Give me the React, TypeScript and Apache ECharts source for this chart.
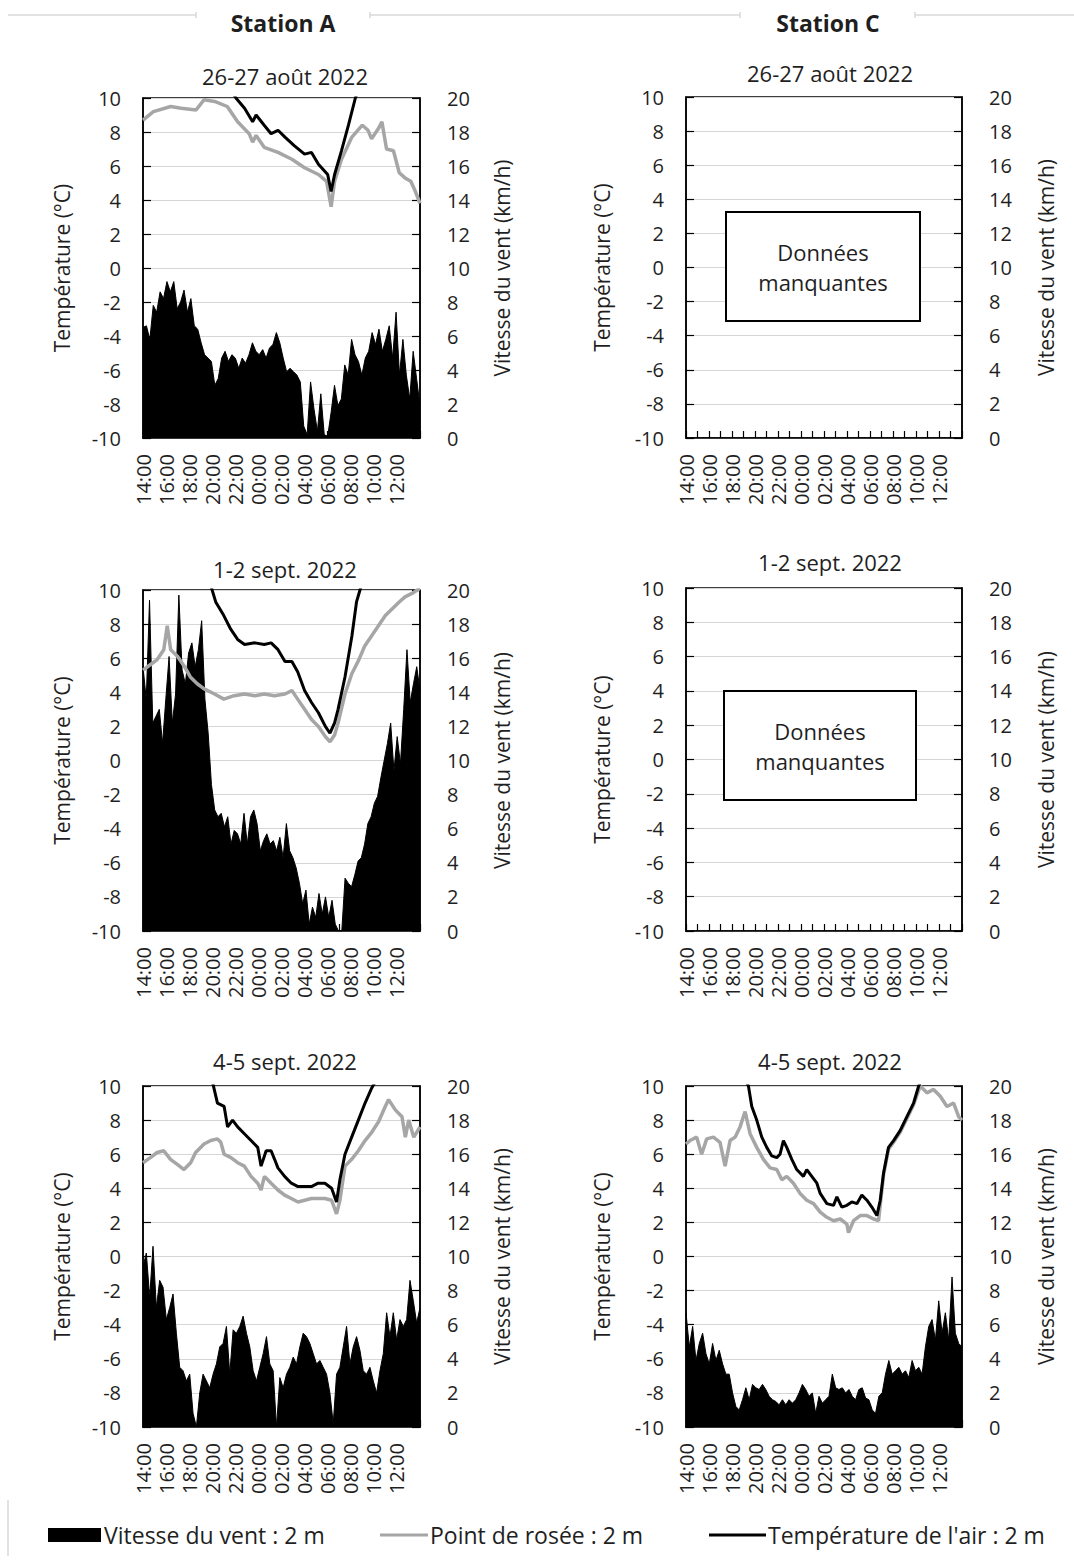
import React, { useEffect, useRef } from 'react';
import * as echarts from 'echarts';

// ---------- DATA ----------
const timeLabels = ['14:00', '16:00', '18:00', '20:00', '22:00', '00:00', '02:00', '04:00', '06:00', '08:00', '10:00', '12:00'];

// Wind speed (km/h), evenly spaced from 14:00 to 14:00 next day
const windA1 = [6.5, 6.6, 5.8, 7.8, 7.4, 8.6, 8.2, 9.2, 8.6, 9.2, 7.6, 8.0, 8.7, 7.4, 8.2, 6.6, 6.4, 5.6, 4.9, 4.7, 4.5, 3.1, 3.5, 4.7, 5.1, 4.5, 4.9, 4.7, 4.1, 4.7, 4.4, 4.9, 5.6, 5.1, 4.9, 5.2, 4.7, 5.3, 5.5, 6.2, 5.6, 4.7, 3.9, 4.1, 3.9, 3.7, 3.3, 0.7, 0.2, 3.3, 1.7, 0.4, 2.6, 0.2, 0.1, 1.5, 3.1, 1.9, 2.3, 4.3, 3.7, 5.8, 4.9, 4.5, 3.7, 4.7, 5.1, 6.2, 5.5, 6.4, 5.1, 5.8, 6.6, 4.7, 7.4, 3.7, 5.8, 3.7, 2.3, 5.1, 3.5, 1.9];
const windA2 = [15.5, 13.6, 19.4, 12.2, 12.6, 13.0, 11.0, 13.6, 16.1, 12.2, 13.9, 19.7, 15.3, 14.5, 16.3, 16.9, 15.5, 16.5, 18.2, 13.6, 11.6, 8.6, 7.1, 6.7, 6.9, 6.1, 6.7, 5.1, 5.9, 5.7, 5.1, 6.9, 5.1, 6.7, 7.1, 6.3, 4.7, 5.3, 5.7, 5.1, 5.3, 4.7, 5.5, 4.3, 6.3, 4.7, 4.3, 3.7, 2.8, 1.6, 2.4, 0.4, 1.4, 0.8, 2.2, 1.0, 2.0, 0.8, 1.8, 0.4, 0, 0, 3.1, 2.8, 2.6, 3.3, 4.1, 4.3, 5.1, 6.3, 6.7, 7.5, 7.9, 9.0, 10.0, 11.0, 12.2, 9.4, 11.4, 9.8, 13.0, 16.5, 13.4, 14.5, 15.5, 14.1];
const windA3 = [9.4, 10.2, 7.6, 10.6, 7.0, 8.6, 8.2, 6.3, 7.0, 7.8, 5.5, 3.5, 3.3, 2.7, 3.1, 0.8, 0, 2.0, 3.1, 2.7, 2.3, 3.1, 3.7, 4.7, 4.9, 5.9, 3.1, 5.7, 5.5, 5.9, 6.5, 5.5, 4.7, 3.3, 2.7, 3.5, 4.3, 5.3, 3.7, 3.3, 0, 2.9, 2.3, 3.1, 3.5, 4.1, 3.7, 4.7, 5.5, 5.3, 4.9, 4.3, 3.7, 3.9, 3.5, 3.1, 2.0, 0.2, 3.1, 3.5, 4.7, 5.9, 3.7, 4.7, 5.3, 4.5, 3.3, 3.1, 3.5, 2.7, 2.0, 3.3, 4.3, 6.7, 5.3, 6.7, 5.1, 6.3, 5.9, 6.3, 8.6, 7.4, 6.1, 7.0];
const windC3 = [6.7, 4.7, 5.9, 3.9, 4.9, 5.5, 4.3, 3.7, 4.9, 3.9, 4.5, 3.7, 3.1, 3.1, 2.0, 1.2, 1.0, 1.6, 2.3, 1.6, 2.5, 2.3, 2.2, 2.5, 2.2, 1.8, 1.6, 1.5, 1.3, 1.6, 1.3, 1.6, 1.4, 1.6, 2.0, 2.5, 2.2, 1.8, 2.0, 0.8, 1.8, 1.4, 1.6, 1.8, 3.1, 2.3, 2.2, 2.3, 2.0, 2.2, 1.8, 1.6, 2.2, 2.3, 1.7, 1.6, 1.0, 0.8, 1.8, 2.0, 3.1, 3.9, 3.1, 3.3, 3.5, 3.1, 3.3, 2.9, 3.9, 3.3, 3.5, 3.1, 4.7, 5.9, 6.3, 5.1, 7.4, 5.5, 6.7, 5.1, 8.8, 5.5, 4.9, 4.7];

// Dew point / air temperature (°C): [hours since 14:00, value]
const dewA1 = [[0, 8.7], [0.9, 9.2], [2.4, 9.5], [3.3, 9.4], [4.6, 9.3], [5.3, 9.9], [6.2, 9.8], [7.3, 9.5], [8.2, 8.6], [9.2, 7.9], [9.5, 7.4], [9.8, 7.8], [10.5, 7.1], [11.7, 6.8], [12.9, 6.4], [14.0, 5.9], [15.2, 5.5], [15.9, 5.1], [16.3, 3.6], [16.6, 5.1], [17.2, 6.4], [18.1, 7.7], [19.0, 8.4], [19.5, 8.1], [19.8, 7.6], [20.4, 8.2], [20.7, 8.6], [21.1, 7.0], [21.7, 6.9], [22.2, 5.6], [22.7, 5.3], [23.2, 5.1], [23.6, 4.5], [24, 3.8]];
const tempA1 = [[0, 14.5], [4, 13.2], [7, 11.2], [8.05, 10.0], [8.8, 9.4], [9.5, 8.6], [9.8, 9.0], [10.5, 8.4], [11.1, 7.9], [11.7, 8.1], [12.3, 7.7], [13.1, 7.2], [14.0, 6.7], [14.6, 6.8], [15.2, 6.1], [16.0, 5.5], [16.3, 4.5], [16.6, 5.5], [17.2, 6.9], [17.8, 8.4], [18.4, 10.0], [19.5, 12.0], [24, 17.0]];
const dewA2 = [[0, 5.3], [0.6, 5.6], [1.2, 5.9], [1.8, 6.5], [2.1, 7.9], [2.4, 6.5], [3.0, 6.1], [3.6, 5.5], [4.1, 4.9], [4.7, 4.5], [5.3, 4.2], [6.2, 3.9], [7.0, 3.6], [7.9, 3.8], [8.8, 3.9], [9.7, 3.8], [10.5, 3.9], [11.4, 3.8], [12.3, 3.9], [12.9, 4.1], [13.4, 3.6], [14.0, 3.0], [14.6, 2.4], [15.2, 2.0], [15.8, 1.4], [16.2, 1.1], [16.6, 1.5], [16.9, 2.2], [17.5, 3.9], [18.1, 5.1], [18.7, 5.9], [19.2, 6.7], [19.8, 7.3], [20.4, 7.9], [21.0, 8.5], [21.6, 8.9], [22.2, 9.3], [22.7, 9.6], [23.3, 9.8], [24, 10.1]];
const tempA2 = [[0, 13.5], [3, 12.0], [5.9, 10.2], [6.3, 9.3], [7.0, 8.5], [7.6, 7.7], [8.2, 7.1], [8.8, 6.8], [9.7, 6.9], [10.5, 6.8], [11.1, 6.9], [11.7, 6.5], [12.3, 5.8], [12.9, 5.8], [13.4, 5.2], [14.0, 4.1], [14.6, 3.4], [15.2, 2.8], [15.8, 2.0], [16.2, 1.6], [16.6, 2.2], [16.9, 3.0], [17.5, 4.9], [18.1, 7.3], [18.5, 9.3], [18.8, 10.0], [19.5, 11.5], [24, 16.0]];
const dewA3 = [[0, 5.5], [0.64, 5.8], [1.22, 6.1], [1.8, 6.2], [2.38, 5.7], [2.97, 5.4], [3.55, 5.1], [4.13, 5.5], [4.56, 6.1], [5.29, 6.6], [5.87, 6.8], [6.45, 6.9], [6.74, 6.7], [7.03, 6.0], [7.62, 5.8], [8.2, 5.5], [8.78, 5.3], [9.36, 4.7], [9.94, 4.3], [10.23, 3.9], [10.52, 4.7], [11.1, 4.3], [11.69, 3.9], [12.27, 3.6], [12.85, 3.4], [13.43, 3.2], [14.01, 3.3], [14.59, 3.4], [15.17, 3.4], [15.76, 3.4], [16.34, 3.3], [16.77, 2.5], [17.06, 3.3], [17.5, 5.3], [18.08, 5.7], [18.66, 6.2], [19.24, 6.8], [19.83, 7.3], [20.41, 7.9], [20.99, 8.8], [21.28, 9.2], [21.86, 8.6], [22.44, 8.2], [22.73, 7.0], [23.02, 8.0], [23.46, 7.0], [24, 7.6]];
const tempA3 = [[0, 14.0], [4, 12.0], [6, 10.3], [6.45, 9.0], [7.03, 8.8], [7.33, 7.6], [7.76, 8.0], [8.2, 7.6], [8.78, 7.2], [9.36, 6.8], [9.94, 6.4], [10.23, 5.3], [10.67, 6.2], [11.1, 6.2], [11.4, 5.7], [11.69, 5.2], [12.27, 4.7], [12.85, 4.3], [13.43, 4.1], [14.01, 4.1], [14.59, 4.1], [15.17, 4.3], [15.76, 4.3], [16.34, 4.0], [16.77, 3.2], [17.06, 4.5], [17.5, 6.0], [18.08, 7.0], [18.66, 8.0], [19.24, 9.0], [19.83, 9.9], [20.0, 10.1], [24, 15.0]];
const dewC3 = [[0, 6.6], [0.35, 6.8], [0.93, 7.0], [1.36, 6.0], [1.8, 6.9], [2.38, 7.0], [2.96, 6.7], [3.4, 5.3], [3.83, 6.8], [4.27, 7.0], [4.7, 7.6], [5.14, 8.5], [5.57, 7.2], [6.15, 6.4], [6.73, 5.7], [7.31, 5.2], [7.89, 5.1], [8.33, 4.5], [8.76, 4.7], [9.34, 4.3], [9.92, 3.7], [10.5, 3.3], [11.09, 3.1], [11.67, 2.6], [12.25, 2.3], [12.83, 2.1], [13.41, 2.2], [13.99, 1.9], [14.13, 1.4], [14.57, 2.1], [15.15, 2.4], [15.73, 2.4], [16.31, 2.2], [16.74, 2.1], [17.18, 4.8], [17.61, 6.3], [18.05, 6.7], [18.63, 7.3], [19.21, 8.1], [19.79, 8.9], [20.37, 10.0], [20.95, 9.6], [21.53, 9.8], [22.11, 9.4], [22.69, 8.8], [23.27, 9.0], [23.71, 8.2], [24, 8.0]];
const tempC3 = [[0, 15.0], [4, 12.0], [5.43, 10.0], [5.72, 8.8], [6.15, 8.0], [6.59, 7.0], [7.02, 6.4], [7.46, 5.9], [7.89, 5.8], [8.18, 6.0], [8.47, 6.8], [8.76, 6.4], [9.2, 5.7], [9.63, 5.1], [10.21, 4.7], [10.5, 5.1], [10.94, 4.7], [11.38, 4.3], [11.67, 3.7], [12.25, 3.1], [12.83, 3.0], [13.12, 3.5], [13.55, 2.9], [13.99, 3.0], [14.42, 3.2], [14.86, 3.1], [15.29, 3.6], [15.73, 3.3], [16.16, 2.9], [16.6, 2.4], [16.89, 3.3], [17.18, 4.9], [17.61, 6.4], [18.05, 6.8], [18.63, 7.4], [19.21, 8.2], [19.79, 9.0], [20.23, 10.0], [21, 11.0], [24, 13.0]];

const titles = ['26-27 août 2022', '1-2 sept. 2022', '4-5 sept. 2022'];
const stations = ['Station A', 'Station C'];
const legendNames = ['Vitesse du vent : 2 m', 'Point de rosée : 2 m', "Température de l'air : 2 m"];
const missingText = ['Données', 'manquantes'];
const axisNames = ['Température (°C)', 'Vitesse du vent (km/h)'];

// ---------- LAYOUT ----------
const FONT = "'Open Sans', 'Noto Sans', sans-serif";
const TXT = '#1f1f1f';
const GRAY = '#a6a6a6';

type Panel = {
  left: number; top: number; width: number; height: number;
  title: string; titleX: number; titleY: number;
  nameL: number; nameR: number;
  wind?: number[]; dew?: number[][]; temp?: number[][];
  box?: { x: number; y: number; w: number; h: number };
};

const panels: Panel[] = [
  { left: 143, top: 98, width: 277, height: 340, title: titles[0], titleX: 285, titleY: 76, nameL: 62, nameR: 502, wind: windA1, dew: dewA1, temp: tempA1 },
  { left: 143, top: 590, width: 277, height: 341, title: titles[1], titleX: 285, titleY: 569, nameL: 62, nameR: 502, wind: windA2, dew: dewA2, temp: tempA2 },
  { left: 143, top: 1086, width: 277, height: 341, title: titles[2], titleX: 285, titleY: 1061, nameL: 62, nameR: 502, wind: windA3, dew: dewA3, temp: tempA3 },
  { left: 686, top: 97, width: 276, height: 341, title: titles[0], titleX: 830, titleY: 73, nameL: 602, nameR: 1046, box: { x: 726, y: 212, w: 194, h: 109 } },
  { left: 686, top: 588, width: 276, height: 343, title: titles[1], titleX: 830, titleY: 562, nameL: 602, nameR: 1046, box: { x: 724, y: 691, w: 192, h: 109 } },
  { left: 686, top: 1086, width: 276, height: 341, title: titles[2], titleX: 830, titleY: 1061, nameL: 602, nameR: 1046, wind: windC3, dew: dewC3, temp: tempC3 },
];

function txt(text: string, x: number, y: number, size: number, opts: any = {}) {
  return {
    type: 'text', x, y, rotation: opts.rotation || 0, z: 100,
    style: {
      text, fill: TXT, fontSize: size, fontFamily: FONT, fontWeight: opts.bold ? 'bold' : 'normal',
      align: opts.align || 'center', verticalAlign: 'middle',
      textAlign: opts.align || 'center', textVerticalAlign: 'middle',
    },
  };
}

function buildOption() {
  const grid: any[] = [];
  const xAxis: any[] = [];
  const yAxis: any[] = [];
  const series: any[] = [];
  const graphic: any[] = [];

  panels.forEach((p, i) => {
    grid.push({ left: p.left, top: p.top, width: p.width, height: p.height, show: true, borderColor: '#000', borderWidth: 1.5, backgroundColor: 'transparent' });
    xAxis.push({
      type: 'value', gridIndex: i, min: 0, max: 24, interval: 1,
      axisLine: { show: true, onZero: false, lineStyle: { color: '#000', width: 1.5 } },
      axisTick: { show: true, inside: true, length: 7, lineStyle: { color: '#000', width: 1.2 } },
      splitLine: { show: false },
      axisLabel: {
        rotate: 90, margin: 16, fontSize: 20, fontFamily: FONT, color: TXT,
        formatter: (v: number) => (v % 2 === 0 && v < 24 ? timeLabels[v / 2] : ''),
      },
    });
    yAxis.push({
      type: 'value', gridIndex: i, position: 'left', min: -10, max: 10, interval: 2,
      axisLine: { show: true, lineStyle: { color: '#000', width: 1.5 } },
      axisTick: { show: true, inside: true, length: 8, lineStyle: { color: '#000', width: 1.2 } },
      splitLine: { show: true, lineStyle: { color: '#d6d6d6', width: 1.2 } },
      axisLabel: { margin: 22, fontSize: 20, fontFamily: FONT, color: TXT },
    });
    yAxis.push({
      type: 'value', gridIndex: i, position: 'right', min: 0, max: 20, interval: 2,
      axisLine: { show: true, lineStyle: { color: '#000', width: 1.5 } },
      axisTick: { show: true, inside: true, length: 8, lineStyle: { color: '#000', width: 1.2 } },
      splitLine: { show: false },
      axisLabel: { margin: 27, fontSize: 20, fontFamily: FONT, color: TXT },
    });

    if (p.wind) {
      const n = p.wind.length;
      series.push({
        name: legendNames[0], type: 'line', xAxisIndex: i, yAxisIndex: 2 * i + 1,
        data: p.wind.map((v, k) => [(k * 24) / (n - 1), v]),
        symbol: 'none', clip: true, silent: true,
        lineStyle: { color: '#000', width: 1 },
        areaStyle: { color: '#000', opacity: 1 },
      });
    }
    if (p.dew) {
      series.push({
        name: legendNames[1], type: 'line', xAxisIndex: i, yAxisIndex: 2 * i,
        data: p.dew, symbol: 'none', clip: true, silent: true,
        lineStyle: { color: GRAY, width: 3.5 },
      });
    }
    if (p.temp) {
      series.push({
        name: legendNames[2], type: 'line', xAxisIndex: i, yAxisIndex: 2 * i,
        data: p.temp, symbol: 'none', clip: true, silent: true,
        lineStyle: { color: '#000', width: 3 },
      });
    }

    const cy = p.top + p.height / 2;
    graphic.push(txt(p.title, p.titleX, p.titleY, 22));
    graphic.push(txt(axisNames[0], p.nameL, cy, 21, { rotation: Math.PI / 2 }));
    graphic.push(txt(axisNames[1], p.nameR, cy, 21, { rotation: Math.PI / 2 }));

    if (p.box) {
      graphic.push({
        type: 'rect', z: 90,
        shape: { x: p.box.x, y: p.box.y, width: p.box.w, height: p.box.h },
        style: { fill: '#fff', stroke: '#000', lineWidth: 2 },
      });
      const bx = p.box.x + p.box.w / 2;
      const by = p.box.y + p.box.h / 2;
      graphic.push(txt(missingText[0], bx, by - 15, 22));
      graphic.push(txt(missingText[1], bx, by + 15, 22));
    }
  });

  // Headers and decorative frame lines
  graphic.push(txt(stations[0], 283, 23, 23, { bold: true }));
  graphic.push(txt(stations[1], 828, 23, 23, { bold: true }));
  const frame = '#d9d9d9';
  const seg = (x1: number, y1: number, x2: number, y2: number) => ({
    type: 'line', z: 1, shape: { x1, y1, x2, y2 }, style: { stroke: frame, lineWidth: 1.5 },
  });
  graphic.push(seg(8, 15, 196, 15), seg(196, 12, 196, 18));
  graphic.push(seg(370, 15, 740, 15), seg(370, 12, 370, 18), seg(740, 12, 740, 18));
  graphic.push(seg(915, 15, 1074, 15), seg(915, 12, 915, 18));
  graphic.push(seg(8, 1500, 8, 1556));

  // Legend
  const ly = 1535;
  graphic.push({ type: 'rect', z: 100, shape: { x: 48, y: ly - 7, width: 53, height: 14 }, style: { fill: '#000' } });
  graphic.push(txt(legendNames[0], 104, ly, 23, { align: 'left' }));
  graphic.push({ type: 'line', z: 100, shape: { x1: 380, y1: ly, x2: 428, y2: ly }, style: { stroke: GRAY, lineWidth: 3 } });
  graphic.push(txt(legendNames[1], 430, ly, 23, { align: 'left' }));
  graphic.push({ type: 'line', z: 100, shape: { x1: 709, y1: ly, x2: 766, y2: ly }, style: { stroke: '#000', lineWidth: 3 } });
  graphic.push(txt(legendNames[2], 768, ly, 23, { align: 'left' }));

  return {
    animation: false,
    backgroundColor: '#fff',
    textStyle: { fontFamily: FONT },
    grid, xAxis, yAxis, series, graphic,
  };
}

export default function App() {
  const ref = useRef<HTMLDivElement>(null);
  useEffect(() => {
    document.body.style.margin = '0';
    if (!ref.current) return;
    const chart = echarts.init(ref.current, undefined, { renderer: 'svg' });
    chart.setOption(buildOption() as any);
    return () => chart.dispose();
  }, []);
  return <div ref={ref} style={{ width: 1074, height: 1560 }} />;
}
